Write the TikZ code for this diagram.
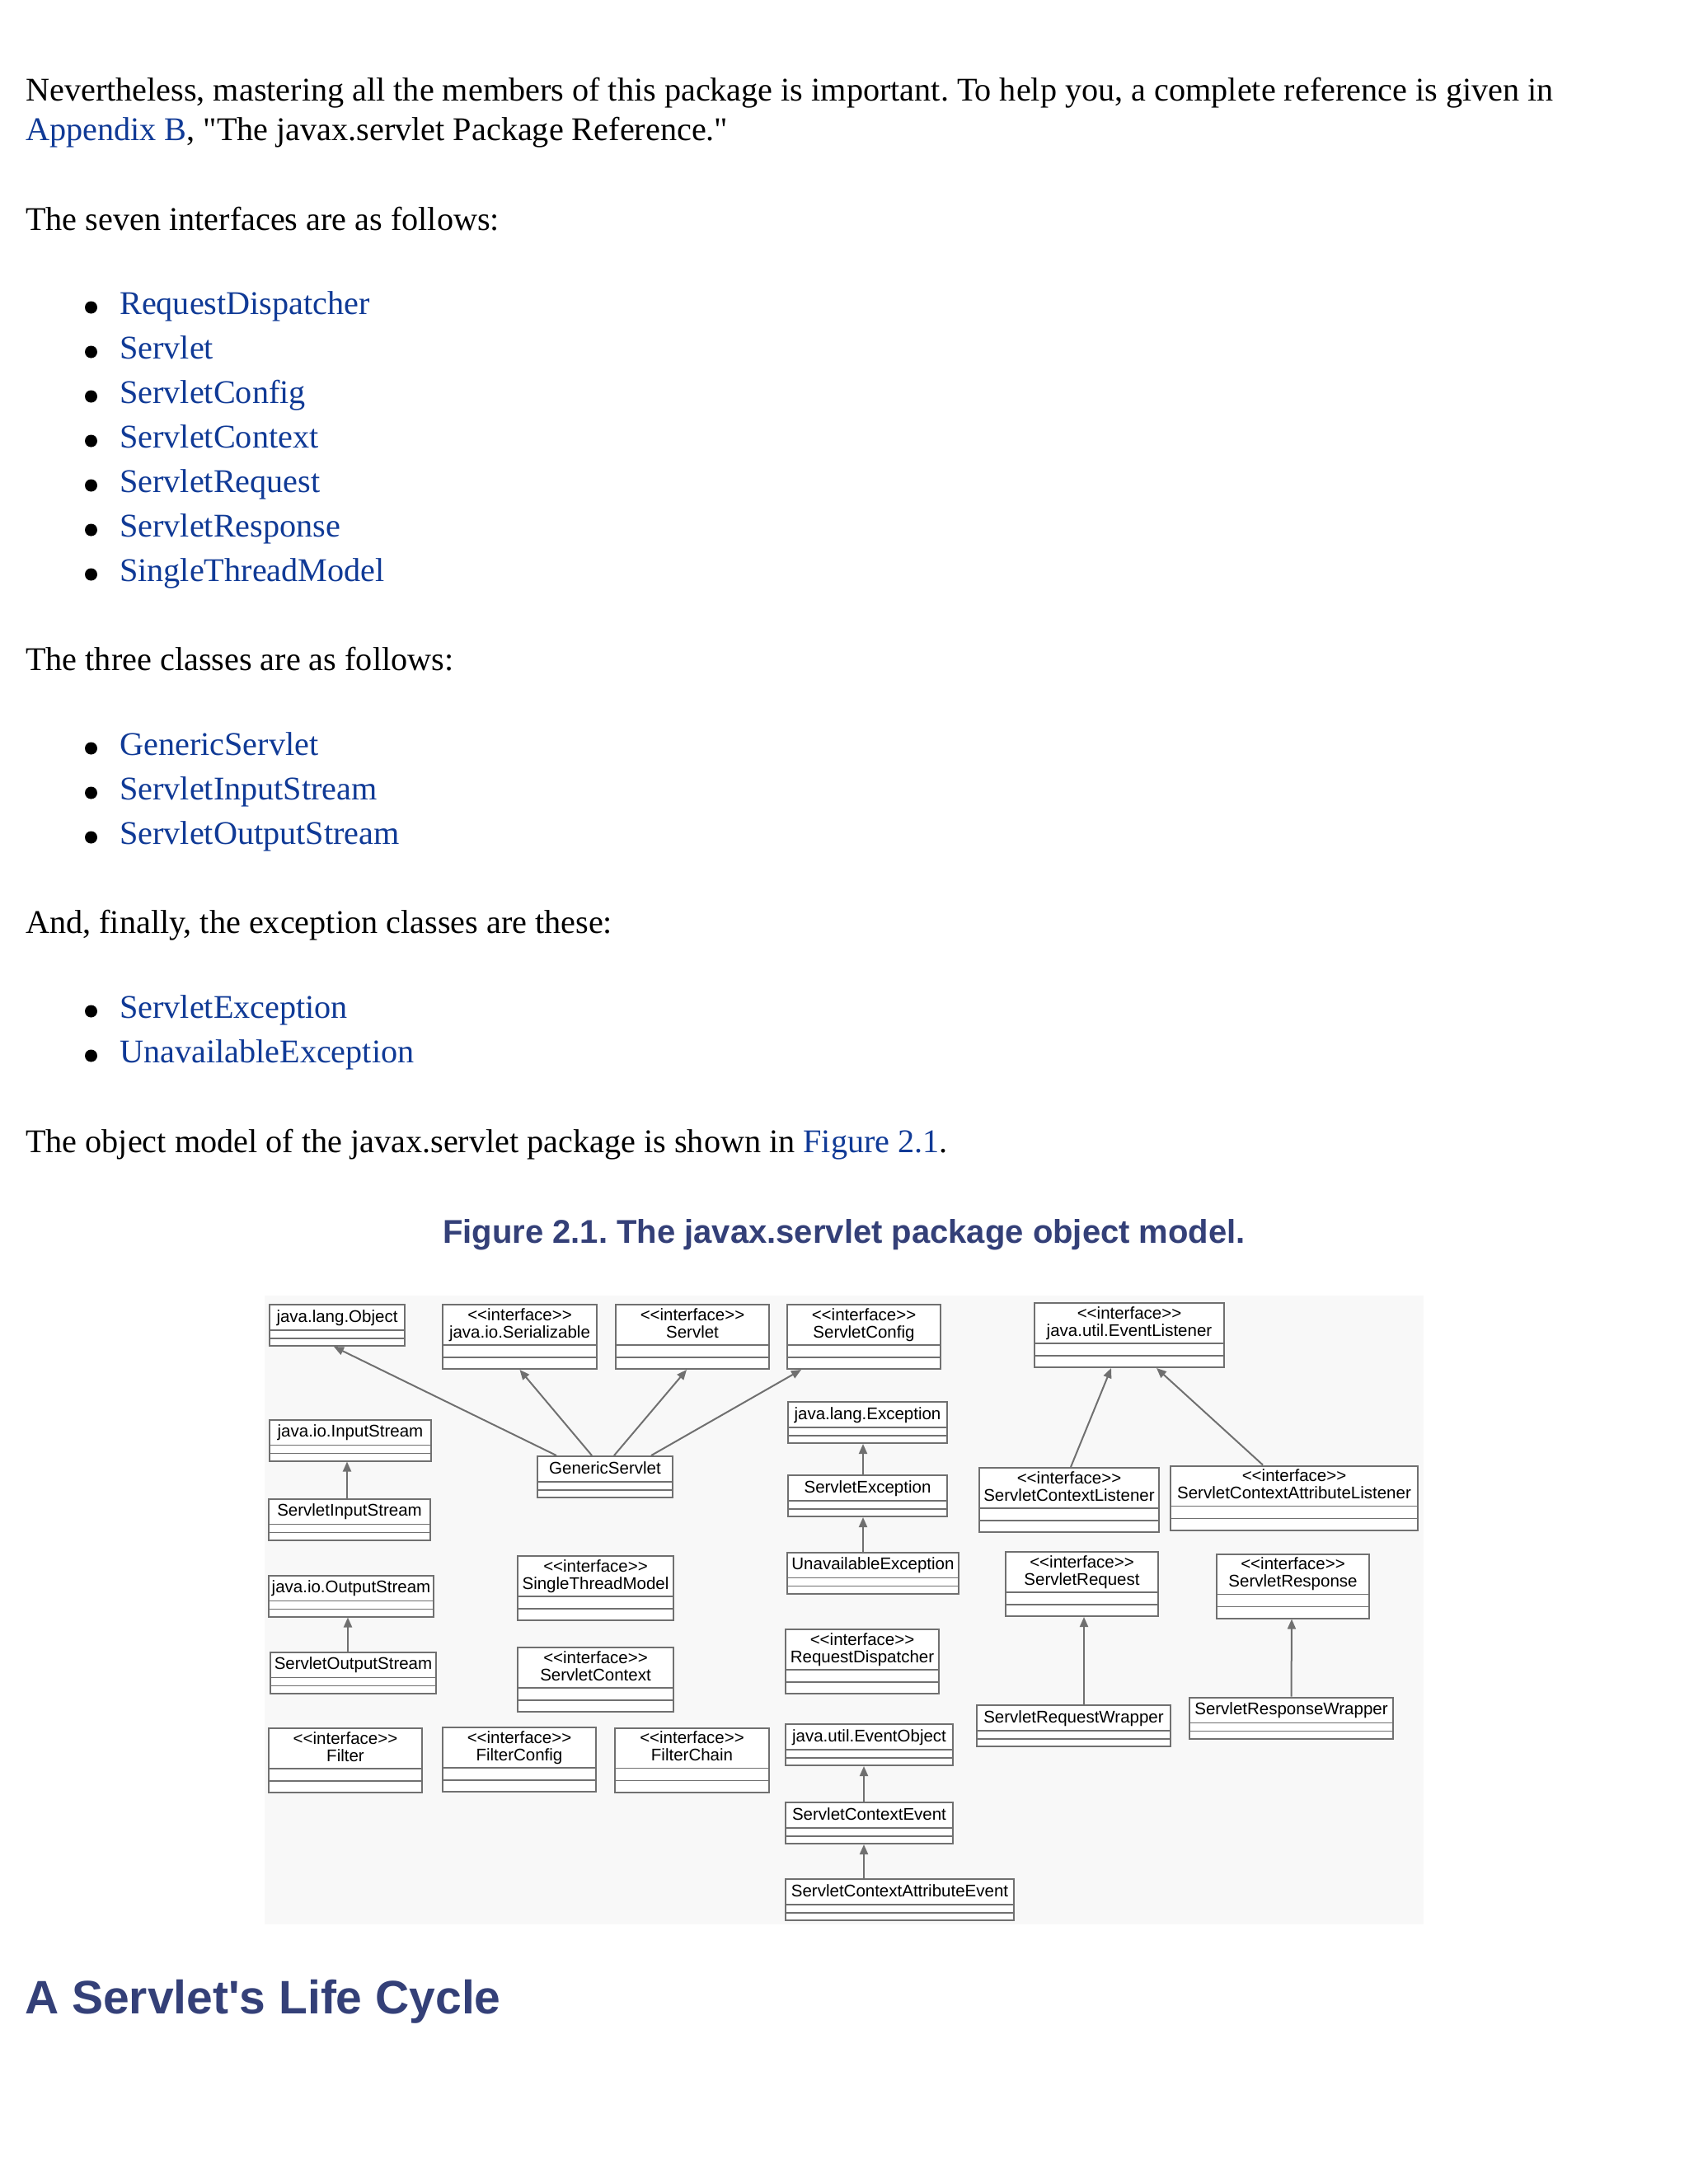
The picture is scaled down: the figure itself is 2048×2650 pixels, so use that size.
\documentclass[tikz,border=0pt]{standalone}
\usepackage{fontspec}
\setmainfont{Liberation Serif}[Ligatures=TeXOff]
\newfontfamily\headfont{Liberation Sans}[Ligatures=TeXOff]
\newfontfamily\umlfont{Liberation Sans}[Ligatures=TeXOff]
\usetikzlibrary{arrows.meta}

\definecolor{linkblue}{RGB}{16,58,150}
\definecolor{headblue}{RGB}{52,64,120}
\definecolor{boxgray}{RGB}{112,112,112}
\definecolor{diagbg}{RGB}{248,248,248}

\newcommand{\stereo}{<\kern0pt<interface>\kern0pt>}
\newcommand{\iface}[1]{\begin{tabular}[b]{@{}c@{}}\stereo\\#1\end{tabular}}

\tikzset{
  bodytext/.style={anchor=base west, inner sep=0pt, font=\fontsize{40.2}{48}\selectfont},
  linktext/.style={bodytext, text=linkblue},
  umlbox/.style={draw=boxgray, line width=2pt, fill=white, inner sep=0pt,
    font=\umlfont\fontsize{20.5}{20.5}\selectfont},
  oneline/.style={umlbox, minimum height=50pt, text height=21pt, text depth=29pt},
  twoline/.style={umlbox, minimum height=78pt, text height=40pt, text depth=38pt},
  inherit/.style={draw=boxgray, line width=2pt, -{Triangle[length=12pt,width=10pt]}},
}

\begin{document}
\frenchspacing
\begin{tikzpicture}[x=1pt,y=-1pt]
  \useasboundingbox (0,0) rectangle (2048,2650);
  \fill[white] (0,0) rectangle (2048,2650);

  % text above the figure
  \node[bodytext] (para1) at (31,122) {Nevertheless, mastering all the members of this package is important. To help you, a complete reference is given in};
  \node[bodytext] (para2) at (31,170) {{\color{linkblue}Appendix B}, "The javax.servlet Package Reference."};
  \node[bodytext] (intro1) at (31,279) {The seven interfaces are as follows:};
  \foreach \y/\t [count=\i] in {381/RequestDispatcher, 435/Servlet, 489/ServletConfig,
      543/ServletContext, 597/ServletRequest, 651/ServletResponse, 705/SingleThreadModel} {
    \fill (110.5,\y-8) circle (7.5pt);
    \node[linktext] (ifc\i) at (145,\y) {\t};
  }
  \node[bodytext] (intro2) at (31,813) {The three classes are as follows:};
  \foreach \y/\t [count=\i] in {916/GenericServlet, 970/ServletInputStream, 1024/ServletOutputStream} {
    \fill (110.5,\y-8) circle (7.5pt);
    \node[linktext] (cls\i) at (145,\y) {\t};
  }
  \node[bodytext] (intro3) at (31,1132) {And, finally, the exception classes are these:};
  \foreach \y/\t [count=\i] in {1235/ServletException, 1289/UnavailableException} {
    \fill (110.5,\y-8) circle (7.5pt);
    \node[linktext] (exn\i) at (145,\y) {\t};
  }
  \node[bodytext] (intro4) at (31,1398) {The object model of the javax.servlet package is shown in {\color{linkblue}Figure 2.1}.};

  \node[anchor=base, inner sep=0pt, text=headblue, font=\headfont\bfseries\fontsize{40}{48}\selectfont]
    (figtitle) at (1024,1508) {Figure 2.1. The javax.servlet package object model.};

  % the diagram
  \fill[diagbg] (321,1572) rectangle (1727,2335);

  \node[oneline, minimum width=164pt] (obj) at (409,1608) {java.lang.Object};
  \node[twoline, minimum width=187pt] (ser) at (630.5,1622) {\iface{java.io.Serializable}};
  \node[twoline, minimum width=186pt] (srv) at (840,1622) {\iface{Servlet}};
  \node[twoline, minimum width=186pt] (scfg) at (1048,1622) {\iface{ServletConfig}};
  \node[twoline, minimum width=230pt] (evl) at (1370,1620) {\iface{java.util.EventListener}};
  \node[oneline, minimum width=196pt] (ins) at (425,1747.5) {java.io.InputStream};
  \node[oneline, minimum width=164pt] (gs) at (734,1792) {GenericServlet};
  \node[oneline, minimum width=196pt] (sins) at (424,1843.5) {ServletInputStream};
  \node[oneline, minimum width=193pt] (exc) at (1052.5,1726) {java.lang.Exception};
  \node[oneline, minimum width=193pt] (sexc) at (1052.5,1815) {ServletException};
  \node[oneline, minimum width=208pt] (uexc) at (1059,1908.5) {UnavailableException};
  \node[twoline, minimum width=218pt] (scl) at (1297,1820) {\iface{ServletContextListener}};
  \node[twoline, minimum width=300pt] (scal) at (1570,1817.5) {\iface{ServletContextAttributeListener}};
  \node[oneline, minimum width=200pt] (outs) at (426,1936.5) {java.io.OutputStream};
  \node[twoline, minimum width=189pt] (stm) at (722.5,1927) {\iface{SingleThreadModel}};
  \node[twoline, minimum width=185pt] (sreq) at (1312.5,1922) {\iface{ServletRequest}};
  \node[twoline, minimum width=185pt] (sresp) at (1568.5,1924.5) {\iface{ServletResponse}};
  \node[oneline, minimum width=201pt] (souts) at (428.5,2029.5) {ServletOutputStream};
  \node[twoline, minimum width=189pt] (sctx) at (722.5,2038) {\iface{ServletContext}};
  \node[twoline, minimum width=186pt] (rd) at (1046,2016) {\iface{RequestDispatcher}};
  \node[twoline, minimum width=186pt] (filt) at (419,2136) {\iface{Filter}};
  \node[twoline, minimum width=186pt] (fcfg) at (630,2135) {\iface{FilterConfig}};
  \node[twoline, minimum width=187pt] (fch) at (839.5,2135.5) {\iface{FilterChain}};
  \node[oneline, minimum width=203pt] (evo) at (1054.5,2117) {java.util.EventObject};
  \node[oneline, minimum width=235pt] (sreqw) at (1302.5,2094) {ServletRequestWrapper};
  \node[oneline, minimum width=247pt] (srespw) at (1566.5,2084.5) {ServletResponseWrapper};
  \node[oneline, minimum width=203pt] (sce) at (1054.5,2212) {ServletContextEvent};
  \node[oneline, minimum width=277pt] (scae) at (1091.5,2305) {ServletContextAttributeEvent};

  % compartments
  \foreach \n in {obj,ins,gs,sins,exc,sexc,uexc,outs,souts,evo,sreqw,srespw,sce,scae} {
    \draw[boxgray, line width=1.5pt] ([yshift=20pt]\n.south west) -- ([yshift=20pt]\n.south east);
    \draw[boxgray, line width=1.5pt] ([yshift=10pt]\n.south west) -- ([yshift=10pt]\n.south east);
  }
  \foreach \n in {ser,srv,scfg,evl,scl,scal,stm,sreq,sresp,sctx,rd,filt,fcfg,fch} {
    \draw[boxgray, line width=1.5pt] ([yshift=30pt]\n.south west) -- ([yshift=30pt]\n.south east);
    \draw[boxgray, line width=1.5pt] ([yshift=15pt]\n.south west) -- ([yshift=15pt]\n.south east);
  }

  % generalisations
  \draw[inherit] ([xshift=-59pt]gs.north) -- ([xshift=-4pt]obj.south);
  \draw[inherit] ([xshift=-16pt]gs.north) -- (ser.south);
  \draw[inherit] ([xshift=11pt]gs.north) -- ([xshift=-7pt]srv.south);
  \draw[inherit] ([xshift=56pt]gs.north) -- ([xshift=-76pt]scfg.south);
  \draw[inherit] ([xshift=-3pt]sins.north) -- ([xshift=-4pt]ins.south);
  \draw[inherit] ([xshift=-6.5pt]souts.north) -- ([xshift=-4pt]outs.south);
  \draw[inherit] ([xshift=-5.5pt]sexc.north) -- ([xshift=-5.5pt]exc.south);
  \draw[inherit] ([xshift=-12pt]uexc.north) -- ([xshift=-5.5pt]sexc.south);
  \draw[inherit] ([xshift=-6.5pt]sce.north) -- ([xshift=-6.5pt]evo.south);
  \draw[inherit] ([xshift=-43.5pt]scae.north) -- ([xshift=-6.5pt]sce.south);
  \draw[inherit] ([xshift=2pt]scl.north) -- ([xshift=-22pt]evl.south);
  \draw[inherit] ([xshift=-38pt]scal.north) -- ([xshift=33pt]evl.south);
  \draw[inherit] ([xshift=12.5pt]sreqw.north) -- ([xshift=2.5pt]sreq.south);
  \draw[inherit] (srespw.north) -- ([xshift=-1.5pt]sresp.south);

  % next section
  \node[anchor=base west, inner sep=0pt, text=headblue, font=\headfont\bfseries\fontsize{57}{68}\selectfont]
    (lifecycle) at (30,2443) {A Servlet's Life Cycle};
\end{tikzpicture}
\end{document}
